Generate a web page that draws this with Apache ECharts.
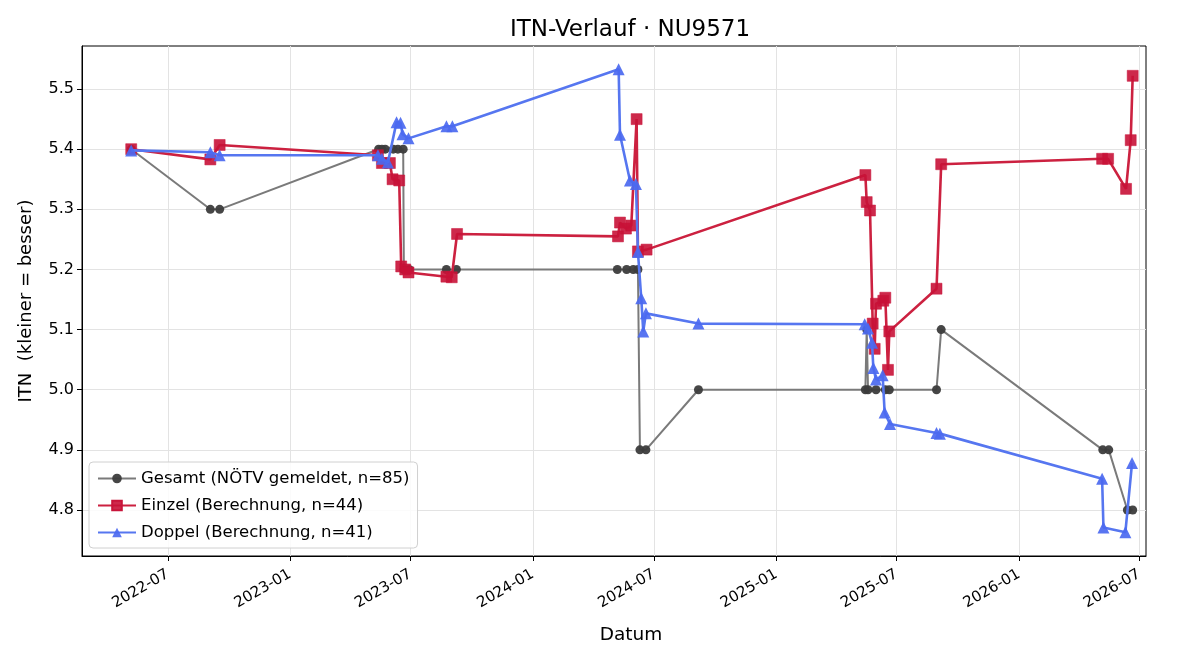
<!DOCTYPE html>
<html>
<head>
<meta charset="utf-8">
<script src="https://cdn.jsdelivr.net/npm/echarts@6/dist/echarts.min.js"></script>
<style>
html,body{margin:0;padding:0;background:#fff;}
#chart{width:1200px;height:660px;}
</style>
</head>
<body>
<div id="chart"></div>
<script>
// ---- data ----
const gesamtDates = ['2022-05-07','2022-09-03','2022-09-17','2023-05-14','2023-05-19','2023-05-24','2023-06-05','2023-06-12','2023-06-20','2023-06-21','2023-06-29','2023-08-24','2023-09-08','2024-05-07','2024-05-21','2024-05-31','2024-06-07','2024-06-10','2024-06-19','2024-09-06','2025-05-15','2025-05-17','2025-05-19','2025-05-31','2025-06-14','2025-06-20','2025-08-30','2025-09-06','2026-05-07','2026-05-16','2026-06-13','2026-06-21'];
const gesamtValues = [5.4,5.3,5.3,5.4,5.4,5.4,5.4,5.4,5.4,5.2,5.2,5.2,5.2,5.2,5.2,5.2,5.2,4.9,4.9,5.0,5.0,5.1,5.0,5.0,5.0,5.0,5.0,5.1,4.9,4.9,4.8,4.8];

const einzelDates = ['2022-05-07','2022-09-03','2022-09-17','2023-05-13','2023-05-19','2023-05-31','2023-06-04','2023-06-14','2023-06-17','2023-06-23','2023-06-28','2023-08-24','2023-09-01','2023-09-09','2024-05-08','2024-05-11','2024-05-20','2024-05-28','2024-06-05','2024-06-07','2024-06-20','2025-05-15','2025-05-17','2025-05-22','2025-05-26','2025-05-29','2025-05-31','2025-06-11','2025-06-14','2025-06-18','2025-06-20','2025-08-30','2025-09-06','2026-05-06','2026-05-15','2026-06-11','2026-06-18','2026-06-21'];
const einzelValues = [5.4,5.383,5.407,5.39,5.377,5.377,5.35,5.348,5.205,5.2,5.195,5.188,5.187,5.259,5.255,5.278,5.268,5.273,5.45,5.23,5.233,5.357,5.312,5.298,5.11,5.068,5.143,5.148,5.153,5.033,5.097,5.168,5.375,5.384,5.384,5.334,5.415,5.522];

const doppelDates = ['2022-05-07','2022-09-03','2022-09-17','2023-05-13','2023-05-19','2023-05-28','2023-06-10','2023-06-16','2023-06-19','2023-06-28','2023-08-24','2023-09-02','2024-05-09','2024-05-11','2024-05-26','2024-06-04','2024-06-07','2024-06-12','2024-06-15','2024-06-19','2024-09-06','2025-05-14','2025-05-19','2025-05-25','2025-05-27','2025-05-31','2025-06-10','2025-06-13','2025-06-21','2025-08-30','2025-09-04','2026-05-06','2026-05-08','2026-06-10','2026-06-20'];
const doppelValues = [5.398,5.395,5.39,5.39,5.384,5.378,5.445,5.444,5.425,5.418,5.438,5.438,5.533,5.424,5.348,5.342,5.229,5.152,5.097,5.127,5.11,5.109,5.102,5.078,5.036,5.017,5.024,4.962,4.943,4.928,4.927,4.852,4.771,4.763,4.878];

const xTickDates = ['2022-07-01','2023-01-01','2023-07-01','2024-01-01','2024-07-01','2025-01-01','2025-07-01','2026-01-01','2026-07-01'];
const yTicks = [4.8,4.9,5.0,5.1,5.2,5.3,5.4,5.5];
const xRange = ['2022-02-22','2026-07-11'];
const yRange = [4.7235, 5.5716];

const seriesNames = ['Gesamt (NÖTV gemeldet, n=85)','Einzel (Berechnung, n=44)','Doppel (Berechnung, n=41)'];
const titleText = 'ITN-Verlauf · NU9571';

// ---- build ----
const t = s => Date.UTC(+s.slice(0,4), +s.slice(5,7) - 1, +s.slice(8,10));
const pairs = (d, v) => d.map((s, i) => [t(s), v[i]]);
const fmtMonth = v => { const d = new Date(v); return d.getUTCFullYear() + '-' + String(d.getUTCMonth() + 1).padStart(2, '0'); };
const FONT = 'DejaVu Sans';

const chart = echarts.init(document.getElementById('chart'));
chart.setOption({
  backgroundColor: '#fff',
  animation: false,
  textStyle: { fontFamily: FONT },
  title: {
    text: titleText, left: 625, top: 14, textAlign: 'center',
    textStyle: { fontFamily: FONT, fontSize: 23, fontWeight: 'normal', color: '#000' }
  },
  grid: { left: 82, right: 54, top: 46, bottom: 104, show: true, borderColor: '#000', borderWidth: 1, backgroundColor: 'transparent' },
  legend: {
    orient: 'vertical', left: 89, top: 462,
    backgroundColor: 'rgba(255,255,255,0.85)', borderColor: '#d0d0d0', borderWidth: 1, borderRadius: 4,
    padding: [8, 8, 7, 8], itemGap: 10, itemWidth: 38, itemHeight: 12,
    textStyle: { fontFamily: FONT, fontSize: 16.5, color: '#000' },
    data: seriesNames
  },
  xAxis: {
    type: 'value', min: t(xRange[0]), max: t(xRange[1]), scale: true,
    name: 'Datum', nameLocation: 'middle', nameGap: 70,
    nameTextStyle: { fontFamily: FONT, fontSize: 18.5, color: '#000', padding: [0, 0, 0, 34] },
    axisLine: { show: true, lineStyle: { color: '#000', width: 1 } },
    axisTick: { show: true, inside: false, length: 5, lineStyle: { color: '#000' }, customValues: xTickDates.map(t) },
    axisLabel: {
      show: true, rotate: 30, fontFamily: FONT, fontSize: 15, color: '#000', margin: 17,
      customValues: xTickDates.map(t), formatter: fmtMonth
    },
    splitLine: { show: true, lineStyle: { color: '#e3e3e3', width: 1 } }
  },
  yAxis: {
    type: 'value', min: yRange[0], max: yRange[1], scale: true,
    name: 'ITN  (kleiner = besser)', nameLocation: 'middle', nameGap: 47,
    nameTextStyle: { fontFamily: FONT, fontSize: 18, color: '#000' },
    axisLine: { show: true, lineStyle: { color: '#000', width: 1 } },
    axisTick: { show: true, inside: false, length: 5, lineStyle: { color: '#000' }, customValues: yTicks },
    axisLabel: { show: true, fontFamily: FONT, fontSize: 16, color: '#000', margin: 8, customValues: yTicks, formatter: v => v.toFixed(1) },
    splitLine: { show: true, lineStyle: { color: '#e3e3e3', width: 1 } }
  },
  series: [
    {
      name: seriesNames[0], type: 'line', data: pairs(gesamtDates, gesamtValues),
      symbol: 'circle', symbolSize: 9, showAllSymbol: true,
      lineStyle: { color: '#7a7a7a', width: 2 },
      itemStyle: { color: '#3c3c3c', opacity: 0.95 },
      z: 2
    },
    {
      name: seriesNames[1], type: 'line', data: pairs(einzelDates, einzelValues),
      symbol: 'rect', symbolSize: 11, showAllSymbol: true,
      lineStyle: { color: '#cc2140', width: 2.6 },
      itemStyle: { color: 'rgba(200,18,55,0.9)', borderColor: '#c8143a', borderWidth: 0.5 },
      z: 3
    },
    {
      name: seriesNames[2], type: 'line', data: pairs(doppelDates, doppelValues),
      symbol: 'triangle', symbolSize: 12, showAllSymbol: true,
      lineStyle: { color: '#5676f0', width: 2.6 },
      itemStyle: { color: 'rgba(75,105,240,0.92)' },
      z: 4
    }
  ]
});
</script>
</body>
</html>
